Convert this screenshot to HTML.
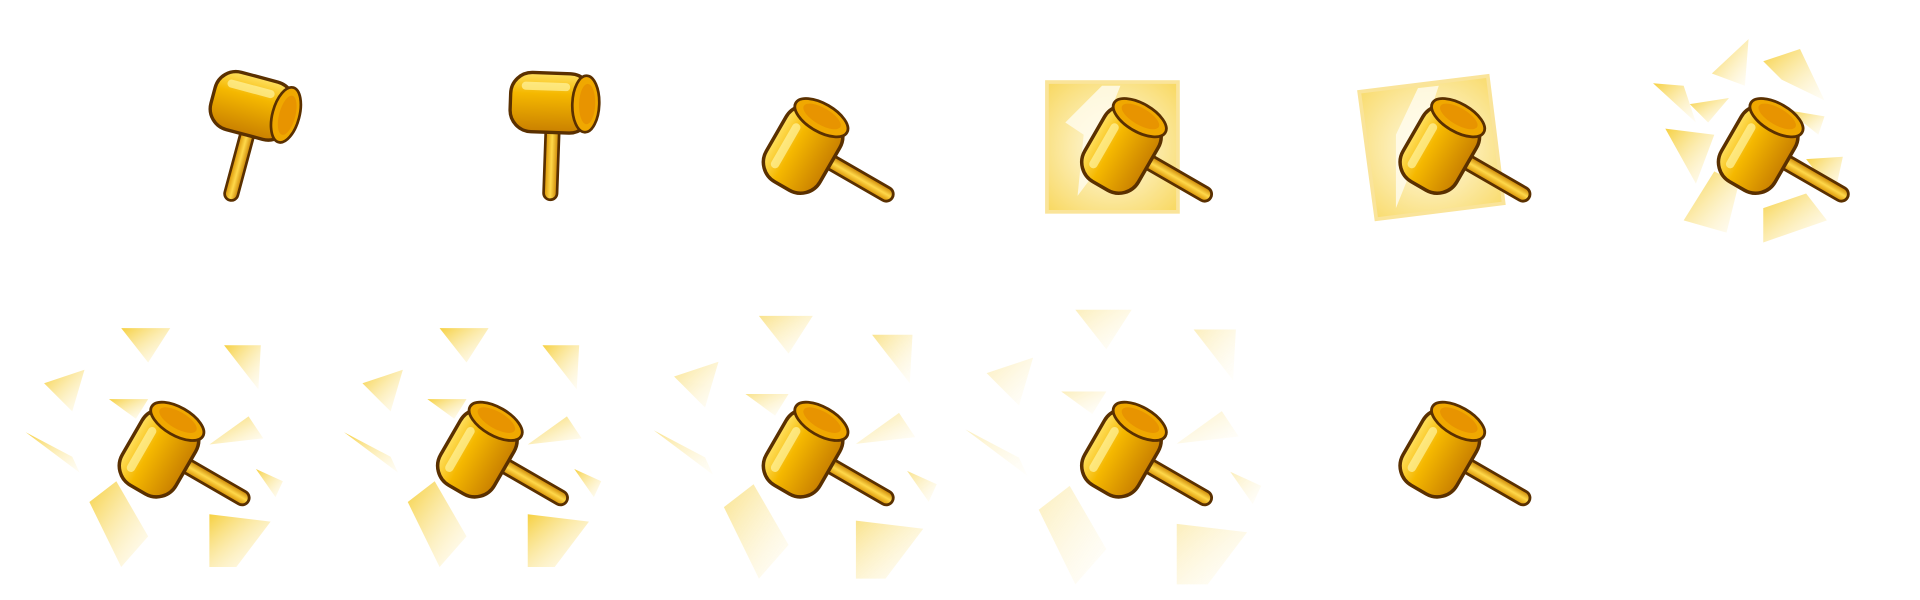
<!DOCTYPE html>
<html><head><meta charset="utf-8"><style>
html,body{margin:0;padding:0;background:#fff;width:1920px;height:600px;overflow:hidden}
svg{display:block}
</style></head><body>
<svg width="1920" height="600" viewBox="0 0 1568 490" preserveAspectRatio="none" xmlns="http://www.w3.org/2000/svg">
<defs>
<linearGradient id="gold" x1="0" y1="0" x2="0" y2="1">
<stop offset="0" stop-color="#ffe060"/><stop offset="0.35" stop-color="#f5b800"/><stop offset="1" stop-color="#c98000"/></linearGradient>
<linearGradient id="hg" x1="0" y1="0" x2="1" y2="0">
<stop offset="0" stop-color="#d89000"/><stop offset="0.5" stop-color="#ffd84a"/><stop offset="1" stop-color="#c88000"/></linearGradient>
<radialGradient id="sq" cx="0.5" cy="0.5" r="0.7">
<stop offset="0" stop-color="#fffbea"/><stop offset="1" stop-color="#f8d860"/></radialGradient>
<linearGradient id="sh" x1="0" y1="0" x2="1" y2="1">
<stop offset="0" stop-color="#f6d040"/><stop offset="1" stop-color="#fff8e0" stop-opacity="0.3"/></linearGradient>
<g id="hammer">
<rect x="-5" y="10" width="10" height="62" rx="5" fill="url(#hg)" stroke="#5a3000" stroke-width="2"/>
<rect x="-32" y="-22" width="60" height="44" rx="16" fill="url(#gold)" stroke="#5a3000" stroke-width="2.5"/>
<ellipse cx="24" cy="0" rx="10" ry="21" fill="#f0a800" stroke="#5a3000" stroke-width="2"/>
<ellipse cx="25" cy="0" rx="6" ry="15" fill="#e89400"/>
<rect x="-24" y="-15" width="36" height="6" rx="3" fill="#fff3a0" opacity="0.7"/>
</g>
<g id="shards1">
<polygon points="-95,-55 -62,-66 -72,-32" fill="url(#sh)"/>
<polygon points="-32,-100 8,-100 -10,-72" fill="url(#sh)"/>
<polygon points="52,-86 82,-86 80,-50" fill="url(#sh)"/>
<polygon points="-110,-15 -72,5 -66,18" fill="url(#sh)"/>
<polygon points="40,-5 72,-28 84,-10" fill="url(#sh)"/>
<polygon points="-58,42 -36,25 -10,70 -32,95" fill="url(#sh)"/>
<polygon points="40,52 90,58 62,95 40,95" fill="url(#sh)"/>
<polygon points="78,15 100,25 94,38" fill="url(#sh)"/>
<polygon points="-42,-42 -10,-42 -20,-26" fill="url(#sh)"/>
</g>
</defs>
<g><use href="#hammer" transform="translate(208,87) rotate(15) scale(1.1)"/></g>
<g><use href="#hammer" transform="translate(452,84) rotate(2) scale(1.1)"/></g>
<g><use href="#hammer" transform="translate(657,120) rotate(-60) scale(1.15)"/></g>
<g>
<rect x="855" y="67" width="107" height="106" fill="url(#sq)" stroke="#fae49a" stroke-width="3"/>
<polygon points="900,70 915,70 905,95 925,100 895,140 880,160 885,110 870,100" fill="#fffdf0" opacity="0.8"/>
<use href="#hammer" transform="translate(917,120) rotate(-60) scale(1.15)"/></g>
<g>
<polygon points="1110,75 1215,62 1228,166 1124,179" fill="url(#sq)" stroke="#fae49a" stroke-width="3"/>
<polygon points="1158,72 1175,70 1165,100 1180,105 1150,145 1140,170 1140,110" fill="#fffdf0" opacity="0.8"/>
<use href="#hammer" transform="translate(1177,120) rotate(-60) scale(1.15)"/></g>
<g>
<polygon points="1398,60 1428,32 1425,70" fill="url(#sh)"/>
<polygon points="1440,50 1470,40 1490,82 1455,65" fill="url(#sh)"/>
<polygon points="1350,68 1375,70 1385,100" fill="url(#sh)"/>
<polygon points="1380,85 1412,80 1395,100" fill="url(#sh)"/>
<polygon points="1360,105 1400,110 1385,150" fill="url(#sh)"/>
<polygon points="1460,90 1490,95 1485,110" fill="url(#sh)"/>
<polygon points="1475,130 1505,128 1498,160" fill="url(#sh)"/>
<polygon points="1375,180 1400,140 1420,150 1410,190" fill="url(#sh)"/>
<polygon points="1440,170 1475,158 1492,180 1440,198" fill="url(#sh)"/>
<use href="#hammer" transform="translate(1437,120) rotate(-60) scale(1.15)"/></g>
<g><use href="#shards1" transform="translate(131,368)"/><use href="#hammer" transform="translate(131,368) rotate(-60) scale(1.15)"/></g>
<g><use href="#shards1" transform="translate(391,368)"/><use href="#hammer" transform="translate(391,368) rotate(-60) scale(1.15)"/></g>
<g opacity="0.6"><use href="#shards1" transform="translate(655,368) scale(1.1)"/></g>
<g><use href="#hammer" transform="translate(657,368) rotate(-60) scale(1.15)"/></g>
<g opacity="0.35"><use href="#shards1" transform="translate(915,368) scale(1.15)"/></g>
<g><use href="#hammer" transform="translate(917,368) rotate(-60) scale(1.15)"/></g>
<g><use href="#hammer" transform="translate(1177,368) rotate(-60) scale(1.15)"/></g>
</svg>
</body></html>
